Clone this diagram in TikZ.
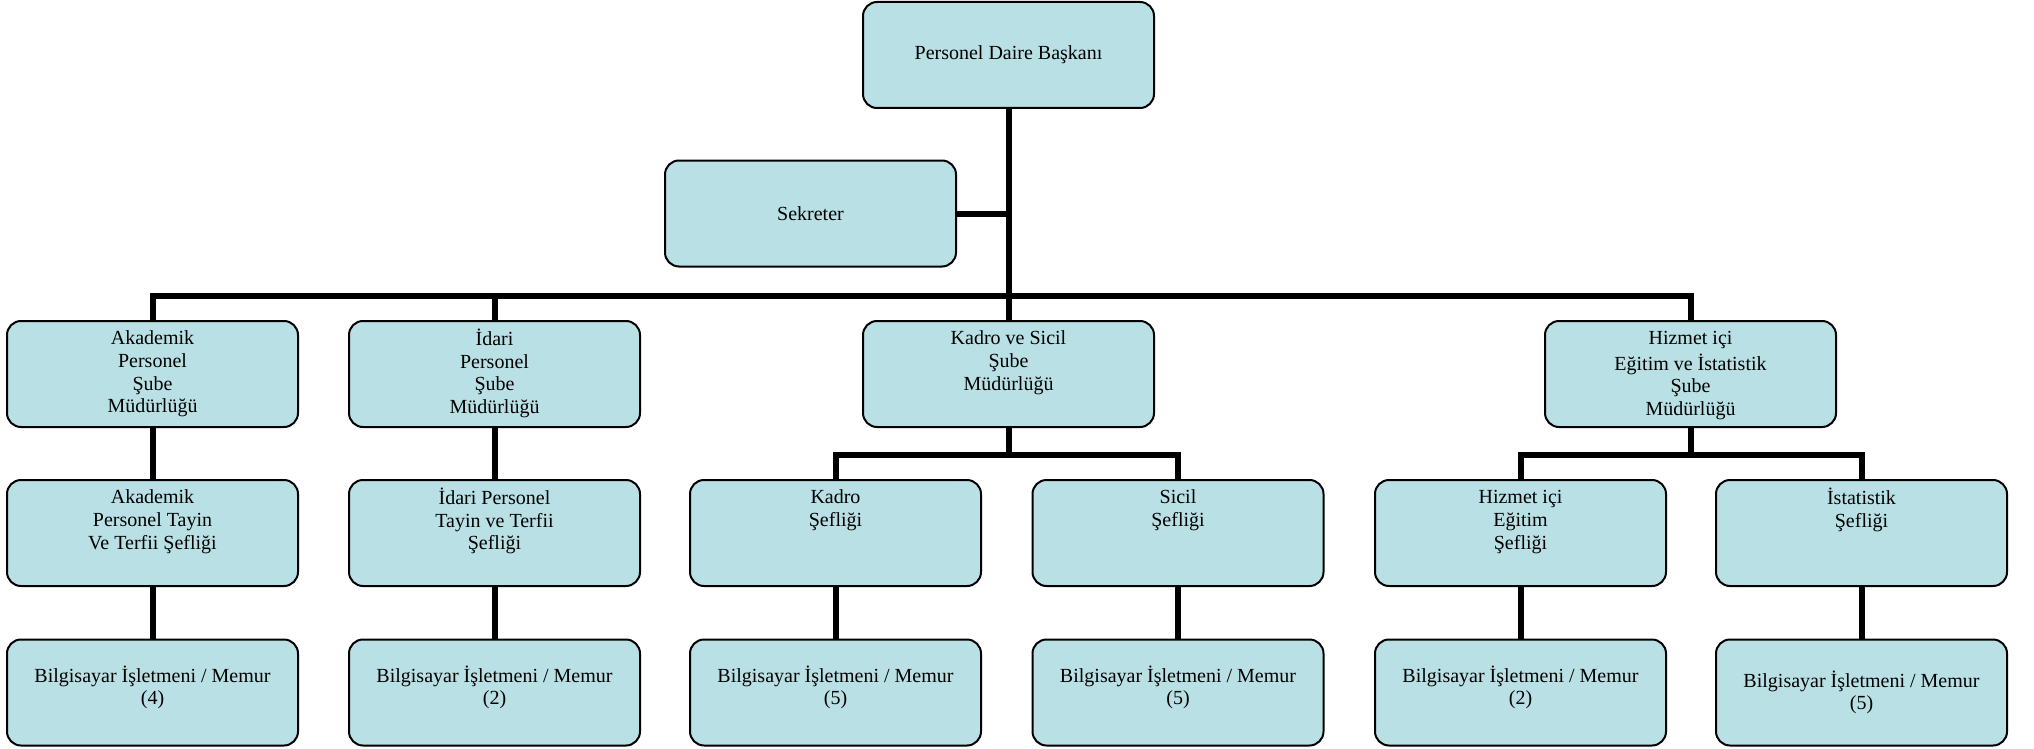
\documentclass[tikz,border=0pt]{standalone}
\usepackage{fontspec}
\setmainfont{Liberation Serif}
\definecolor{kutumavi}{RGB}{185,224,228}
\newcommand{\ustmetin}[1]{\parbox[c][53pt][t]{140pt}{\centering\vspace*{4pt}\strut#1}}
\newcommand{\memurmetin}[2][2.5pt]{\raisebox{#1}[\height][\depth]{\parbox{140pt}{\centering Bilgisayar İşletmeni / Memur\\(#2)}}}

\begin{document}
\begin{tikzpicture}[x=0.5pt,y=-0.5pt,
  kutu/.style={draw,line width=1pt,rounded corners=7pt,fill=kutumavi,minimum width=145.5pt,minimum height=53pt,inner sep=0pt,align=center,font=\fontsize{10}{11.3}\selectfont},
  hat/.style={line width=3pt}]
  \useasboundingbox (0,0) rectangle (2034,749);
  \node[kutu] (daire) at (1008.5,55) {Personel Daire Başkanı};
  \node[kutu] (sekreter) at (810.5,213.5) {Sekreter};

  \node[kutu] (akad) at (152.5,374) {\ustmetin{Akademik\\Personel\\Şube\\Müdürlüğü}};
  \node[kutu] (idari) at (494.5,374) {\ustmetin{İdari\\Personel\\Şube\\Müdürlüğü}};
  \node[kutu] (kadro) at (1008.5,374) {\ustmetin{Kadro ve Sicil\\Şube\\Müdürlüğü}};
  \node[kutu] (hizmet) at (1690.5,374) {\ustmetin{Hizmet içi\\Eğitim ve İstatistik\\Şube\\Müdürlüğü}};

  \node[kutu] (akadsef) at (152.5,533) {\ustmetin{Akademik\\Personel Tayin\\Ve Terfii Şefliği}};
  \node[kutu] (idarisef) at (494.5,533) {\ustmetin{İdari Personel\\Tayin ve Terfii\\Şefliği}};
  \node[kutu] (kadrosef) at (835.5,533) {\ustmetin{Kadro\\Şefliği}};
  \node[kutu] (sicilsef) at (1178,533) {\ustmetin{Sicil\\Şefliği}};
  \node[kutu] (egitimsef) at (1520.5,533) {\ustmetin{Hizmet içi\\Eğitim\\Şefliği}};
  \node[kutu] (istsef) at (1861.5,533) {\ustmetin{İstatistik\\Şefliği}};

  \node[kutu] (akadmem) at (152.5,692.5) {\memurmetin{4}};
  \node[kutu] (idarimem) at (494.5,692.5) {\memurmetin{2}};
  \node[kutu] (kadromem) at (835.5,692.5) {\memurmetin{5}};
  \node[kutu] (sicilmem) at (1178,692.5) {\memurmetin{5}};
  \node[kutu] (egitimmem) at (1520.5,692.5) {\memurmetin{2}};
  \node[kutu] (istmem) at (1861.5,692.5) {\memurmetin[0pt]{5}};

  \coordinate (bus) at (0,296);
  \coordinate (altbus) at (0,455);
  \draw[hat] (daire.south) -- (daire.south |- bus);
  \draw[hat] (sekreter.east) -- (sekreter.east -| daire.south);
  \draw[hat] (akad.north) |- (hizmet.north |- bus) -- (hizmet.north);
  \draw[hat] (idari.north) -- (idari.north |- bus);
  \draw[hat] (kadro.north) -- (kadro.north |- bus);
  \draw[hat] (kadro.south) -- (kadro.south |- altbus);
  \draw[hat] (kadrosef.north) |- (sicilsef.north |- altbus) -- (sicilsef.north);
  \draw[hat] (hizmet.south) -- (hizmet.south |- altbus);
  \draw[hat] (egitimsef.north) |- (istsef.north |- altbus) -- (istsef.north);
  \foreach \a/\b in {akad/akadsef,idari/idarisef,akadsef/akadmem,idarisef/idarimem,kadrosef/kadromem,sicilsef/sicilmem,egitimsef/egitimmem,istsef/istmem}
    \draw[hat] (\a.south) -- (\b.north);
\end{tikzpicture}
\end{document}
